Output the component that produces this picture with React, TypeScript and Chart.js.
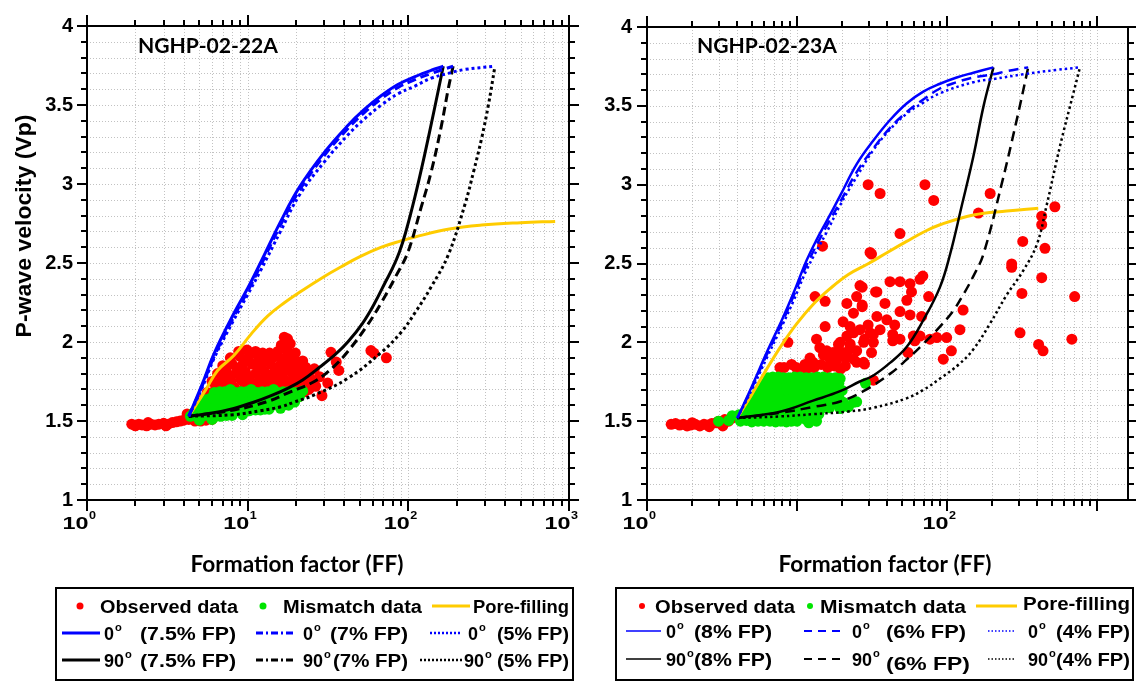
import React, { useEffect, useRef } from 'react';
import { Chart, registerables } from 'chart.js';

Chart.register(...registerables);

type Pt = [number, number];

// ---------------- axes ----------------
const yTickValues = [1, 1.5, 2, 2.5, 3, 3.5, 4];
const yMinorTenths = [10, 11, 12, 13, 14, 15, 16, 17, 18, 19, 20, 21, 22, 23, 24, 25, 26, 27, 28, 29, 30, 31, 32, 33, 34, 35, 36, 37, 38, 39, 40];
const decades = [1, 10, 100, 1000];
const minorMultipliers = [2, 3, 4, 5, 6, 7, 8, 9];
const xLabels22A = [1, 10, 100, 1000];
const xLabels23A = [1, 100];
const xMax22A = 1000;
const xMax23A = 1610;

// ---------------- NGHP-02-22A ----------------
const obs22A: Pt[] = [
  [1.9, 1.48], [2.0, 1.47], [2.1, 1.48], [2.2, 1.475], [2.35, 1.47], [2.5, 1.48], [2.65, 1.475], [2.8, 1.48], [3.0, 1.485], [3.2, 1.48],
  [3.4, 1.49], [3.6, 1.495], [3.8, 1.5], [4.0, 1.505], [4.3, 1.51], [4.7, 1.5], [5.1, 1.5], [5.5, 1.505], [6.0, 1.51], [2.4, 1.49],
  [3.1, 1.47], [4.5, 1.53], [4.2, 1.545],
  [5.3, 1.64], [5.6, 1.68], [6.3, 1.7], [7.2, 1.71], [8.3, 1.71], [9.6, 1.72], [11, 1.72], [12.5, 1.71], [14.3, 1.72], [16.3, 1.72], [18.5, 1.73], [21, 1.72], [23.5, 1.73],
  [6.0, 1.75], [6.9, 1.76], [7.9, 1.75], [9.1, 1.76], [10.4, 1.75], [11.9, 1.76], [13.6, 1.75], [15.5, 1.76], [17.6, 1.75], [20, 1.76], [22.5, 1.77], [25.5, 1.75],
  [6.5, 1.8], [7.4, 1.81], [8.5, 1.8], [9.7, 1.81], [11.2, 1.8], [12.8, 1.81], [14.6, 1.8], [16.7, 1.81], [19, 1.8], [21.5, 1.81], [24, 1.8],
  [7.0, 1.85], [8.0, 1.86], [9.2, 1.85], [10.6, 1.86], [12.1, 1.85], [13.9, 1.86], [15.9, 1.85], [18.1, 1.86], [20.5, 1.85], [23, 1.84],
  [7.8, 1.9], [8.9, 1.91], [10.1, 1.9], [11.6, 1.91], [13.2, 1.89], [15.1, 1.91], [17.2, 1.9], [19.5, 1.89], [22, 1.88],
  [8.8, 1.94], [9.9, 1.95], [11.2, 1.94], [12.4, 1.93], [13.7, 1.93], [15.4, 1.94], [17.8, 1.94], [19.8, 1.93],
  [6.7, 1.73], [7.7, 1.78], [8.6, 1.83], [10.0, 1.78], [11.7, 1.83], [13.0, 1.78], [14.8, 1.83], [16.5, 1.78], [18.2, 1.83], [20.8, 1.79],
  [9.5, 1.88], [12.0, 1.88], [14.2, 1.9], [16.3, 1.88], [18.6, 1.91], [21.0, 1.87], [24.5, 1.77], [25.0, 1.72],
  [16.9, 2.03], [17.7, 2.02], [18.4, 1.99], [16.2, 1.98], [33, 1.935], [35.6, 1.873], [36.9, 1.82], [31.5, 1.74], [58.5, 1.946],
  [61, 1.93], [73, 1.9], [22.5, 1.685], [24, 1.7], [20.4, 1.65], [26.5, 1.72], [28, 1.78], [26, 1.83], [29, 1.66],
];
const mis22A: Pt[] = [
  [4.4, 1.53], [4.7, 1.54], [5.0, 1.53], [5.4, 1.535], [5.8, 1.535], [6.3, 1.53], [6.8, 1.53], [7.4, 1.535], [8.0, 1.535], [9.3, 1.54],
  [4.8, 1.565], [5.1, 1.58], [5.5, 1.565], [6.0, 1.57], [6.4, 1.57], [7.0, 1.575], [7.5, 1.565], [8.2, 1.57], [8.8, 1.57], [9.6, 1.57],
  [10.3, 1.565], [11.2, 1.57], [12, 1.57], [12.8, 1.575], [13.6, 1.575],
  [5.2, 1.605], [5.6, 1.61], [6.0, 1.6], [6.5, 1.605], [7.0, 1.605], [7.6, 1.6], [8.2, 1.6], [8.9, 1.605], [9.6, 1.605], [10.4, 1.6],
  [11.2, 1.6], [12.1, 1.605], [13, 1.605], [14, 1.6], [15, 1.61], [16.1, 1.6], [17.2, 1.605],
  [5.5, 1.635], [5.9, 1.645], [6.5, 1.645], [7.0, 1.64], [7.6, 1.64], [8.2, 1.645], [8.9, 1.645], [9.6, 1.64], [10.4, 1.64],
  [11.2, 1.645], [12.1, 1.645], [13, 1.64], [14, 1.64], [15.1, 1.645], [16.2, 1.645], [17.4, 1.64], [18.6, 1.64],
  [6.2, 1.68], [6.7, 1.685], [7.2, 1.685], [7.8, 1.68], [8.4, 1.68], [9.1, 1.685], [9.8, 1.685], [10.6, 1.68], [11.4, 1.68],
  [12.3, 1.685], [13.3, 1.685], [14.3, 1.68], [15.4, 1.68], [16.6, 1.685], [17.8, 1.685], [19, 1.68], [20.2, 1.68],
  [19.6, 1.62], [21, 1.655], [22, 1.69], [5.0, 1.505], [6.0, 1.51], [4.6, 1.55], [10.5, 1.7], [14.5, 1.7], [7.8, 1.7], [16, 1.58], [18, 1.6],
];
const pore22A: Pt[] = [
  [4.3, 1.53], [5.5, 1.7], [6.5, 1.82], [8.2, 1.914], [10.5, 2.05], [13.3, 2.164], [17, 2.25], [21.4, 2.32], [30, 2.415],
  [38, 2.475], [50, 2.54], [68, 2.6], [90, 2.64], [110, 2.665], [180, 2.715], [286, 2.74], [500, 2.755], [820, 2.763],
];
const deg0FP75: Pt[] = [
  [4.3, 1.53], [5.2, 1.73], [6.2, 1.93], [8.2, 2.18], [10, 2.34], [12, 2.5], [16, 2.76], [21, 2.98], [30, 3.2], [42, 3.37],
  [53, 3.47], [68, 3.56], [86, 3.63], [110, 3.68], [139, 3.72], [165, 3.745],
];
const deg0FP7: Pt[] = [
  [4.3, 1.53], [5.2, 1.72], [6.2, 1.91], [8.2, 2.16], [10, 2.32], [12, 2.48], [16, 2.74], [21, 2.96], [30, 3.18], [42, 3.35],
  [53, 3.45], [68, 3.54], [86, 3.61], [110, 3.66], [139, 3.7], [190, 3.745],
];
const deg0FP5: Pt[] = [
  [4.3, 1.53], [5.2, 1.71], [6.2, 1.9], [8.2, 2.14], [10, 2.3], [12, 2.45], [16, 2.7], [21, 2.93], [30, 3.14], [42, 3.31],
  [53, 3.41], [68, 3.5], [86, 3.57], [110, 3.62], [139, 3.67], [177, 3.7], [225, 3.725], [346, 3.745],
];
const deg90FP75: Pt[] = [
  [4.3, 1.53], [6, 1.55], [8.2, 1.58], [11, 1.62], [14, 1.66], [18, 1.71], [22, 1.76], [28, 1.84], [35, 1.92], [42, 2.0],
  [52, 2.12], [62, 2.25], [72, 2.38], [80, 2.47], [88, 2.57], [96, 2.69], [110, 2.92], [126, 3.18], [145, 3.47], [165, 3.745],
];
const deg90FP7: Pt[] = [
  [4.3, 1.53], [8.2, 1.57], [13, 1.62], [18, 1.68], [26, 1.75], [34, 1.84], [42, 1.94], [55, 2.1], [68, 2.25], [84, 2.42],
  [99.5, 2.57], [120, 2.85], [139, 3.08], [160, 3.36], [177, 3.6], [190, 3.745],
];
const deg90FP5: Pt[] = [
  [4.3, 1.53], [8.2, 1.54], [12, 1.565], [16.1, 1.59], [19.5, 1.62], [26, 1.665], [42, 1.77], [68, 1.935], [90, 2.06],
  [110, 2.185], [139, 2.35], [177, 2.55], [225, 2.87], [255, 3.08], [286, 3.29], [315, 3.5], [346, 3.745],
];

// ---------------- NGHP-02-23A ----------------
const obs23A: Pt[] = [
  [1.45, 1.48], [1.55, 1.485], [1.65, 1.475], [1.75, 1.48], [1.85, 1.47], [1.95, 1.475], [2.1, 1.48], [2.25, 1.47], [2.4, 1.48],
  [2.55, 1.475], [2.7, 1.485], [2.9, 1.49], [3.0, 1.5], [3.1, 1.485], [3.3, 1.51], [3.5, 1.5], [3.7, 1.52], [2.0, 1.49], [2.6, 1.465],
  [3.2, 1.47], [4.2, 1.51],
  [29.8, 3.0], [35.8, 2.944], [71.3, 3.0], [81.6, 2.9], [194, 2.944], [162, 2.82], [48.6, 2.69], [30.7, 2.57], [320, 2.64], [428, 2.8],
  [428, 2.746], [524, 2.86], [450, 2.596], [270, 2.497], [14.8, 2.61], [31.4, 2.56], [27.2, 2.35], [33.4, 2.32], [13.2, 2.29],
  [15.4, 2.26], [25, 2.29], [21.5, 2.247], [27.2, 2.236], [23.8, 2.185], [20.3, 2.13], [22.6, 2.1], [15.4, 2.1], [34.1, 2.164],
  [26.3, 2.08], [30.7, 2.06], [28.2, 2.02], [32.3, 2.0], [13.5, 2.02], [14.2, 1.966], [21.5, 2.04], [18.9, 1.987], [22.6, 1.977],
  [15.8, 1.946], [17.4, 1.935], [20.3, 1.935], [16.6, 1.893], [18.3, 1.883], [25, 1.873], [28.2, 1.862], [8.7, 2.0], [12.8, 1.873],
  [9.9, 1.84], [11.6, 1.83], [11.3, 1.86], [7.7, 1.84], [32.3, 1.76],
  [41.7, 2.385], [48.6, 2.385], [56.7, 2.372], [66.1, 2.4], [69, 2.42], [26.3, 2.36], [34.1, 2.32], [58, 2.32], [75.5, 2.29],
  [27.2, 2.226], [38.6, 2.247], [54, 2.267], [48.6, 2.195], [56.7, 2.174], [67.8, 2.164], [39.7, 2.143], [44.8, 2.11], [29.8, 2.11],
  [35.8, 2.08], [23.8, 2.06], [32.3, 2.05], [43.5, 2.05], [59.6, 2.04], [66.1, 2.04], [77, 2.02], [85.6, 2.03], [99.5, 2.03],
  [43.5, 2.01], [48.6, 2.02], [61, 2.01], [19.4, 2.0], [22.6, 1.99], [27.8, 2.0], [21.5, 1.935], [25, 1.946], [31.4, 1.935],
  [23.8, 1.893], [27.8, 1.873], [55, 1.935], [94.5, 1.893], [107, 1.946], [122, 2.08], [128, 2.205], [270, 2.476], [428, 2.41],
  [316, 2.31], [710, 2.29], [307, 2.06], [408, 1.987], [437, 1.946], [680, 2.02],
  [8.2, 1.84], [9.2, 1.86], [10.2, 1.83], [11.4, 1.85], [13, 1.84], [14.5, 1.86], [16, 1.84], [17.8, 1.85], [19.5, 1.83], [21, 1.85],
  [12.2, 1.9], [15, 1.92], [18.8, 1.94], [21, 1.9],
];
const mis23A: Pt[] = [
  [3.0, 1.5], [3.5, 1.505], [4.2, 1.5], [4.6, 1.505], [5.0, 1.495], [5.5, 1.5], [6.0, 1.5], [6.6, 1.5], [7.2, 1.495], [7.8, 1.5],
  [8.5, 1.495], [9.2, 1.5], [10, 1.5], [11.5, 1.51],
  [3.7, 1.535], [4.1, 1.54], [4.5, 1.54], [4.9, 1.54], [5.3, 1.535], [5.8, 1.54], [6.3, 1.54], [6.9, 1.54], [7.5, 1.535], [8.2, 1.54],
  [9, 1.54], [9.9, 1.535], [10.8, 1.535], [11.6, 1.54], [12.5, 1.54], [14, 1.545],
  [4.6, 1.575], [5.0, 1.58], [5.4, 1.58], [5.9, 1.575], [6.4, 1.575], [7.0, 1.58], [7.6, 1.58], [8.3, 1.575], [9, 1.575], [9.7, 1.58],
  [10.5, 1.58], [11.5, 1.575], [12.5, 1.575], [13.5, 1.58], [14.5, 1.58], [16.5, 1.585],
  [4.9, 1.615], [5.3, 1.62], [5.8, 1.62], [6.3, 1.615], [6.8, 1.615], [7.4, 1.62], [8, 1.62], [8.7, 1.615], [9.5, 1.615], [10.2, 1.62],
  [11, 1.62], [12, 1.615], [13, 1.615], [14, 1.62], [15, 1.62], [16.2, 1.615], [17.5, 1.615], [18.7, 1.62], [20, 1.62],
  [5.2, 1.655], [5.7, 1.66], [6.2, 1.66], [6.7, 1.655], [7.2, 1.655], [7.8, 1.66], [8.5, 1.66], [9.2, 1.655], [10, 1.655],
  [11, 1.66], [12, 1.66], [13, 1.655], [14, 1.655], [15.2, 1.66], [16.5, 1.66], [17.8, 1.655], [19, 1.655],
  [5.6, 1.695], [6.0, 1.7], [6.5, 1.7], [7.1, 1.695], [7.7, 1.695], [8.3, 1.7], [9, 1.7], [9.7, 1.695], [10.5, 1.695], [11.5, 1.7],
  [12.5, 1.7], [13.7, 1.695], [15, 1.695], [16.2, 1.7], [17.5, 1.7], [18.7, 1.695], [20, 1.695],
  [6, 1.735], [6.5, 1.74], [7, 1.74], [7.6, 1.735], [8.2, 1.735], [8.9, 1.74], [9.6, 1.74], [10.5, 1.735], [11.5, 1.735],
  [12.5, 1.74], [13.5, 1.74], [14.7, 1.735], [16, 1.735], [17.5, 1.74], [19, 1.74],
  [6.4, 1.775], [6.9, 1.78], [7.5, 1.78], [8.1, 1.775], [8.8, 1.775], [9.6, 1.78], [10.5, 1.78], [11.5, 1.775], [12.5, 1.775],
  [13.7, 1.78], [15, 1.78], [16.5, 1.775], [18, 1.775],
  [19.4, 1.77], [28.6, 1.74], [20.3, 1.62], [23.8, 1.62], [19.4, 1.58], [22, 1.59], [25, 1.623], [13.5, 1.5], [12, 1.49],
];
const pore23A: Pt[] = [
  [4.0, 1.52], [5, 1.67], [6.28, 1.83], [8, 1.99], [10, 2.12], [12.8, 2.24], [16.6, 2.34], [22, 2.43], [30, 2.5], [40, 2.57],
  [53.8, 2.64], [70, 2.7], [89.8, 2.746], [150, 2.808], [250, 2.833], [406, 2.85],
];
const deg0FP8: Pt[] = [
  [4.0, 1.52], [5, 1.72], [6.28, 1.935], [8, 2.15], [9.45, 2.31], [11.6, 2.52], [13.5, 2.65], [15.8, 2.77], [19.4, 2.93], [25, 3.13],
  [32.3, 3.28], [41.7, 3.41], [53.8, 3.515], [69.5, 3.59], [89.8, 3.64], [116, 3.68], [150, 3.71], [204, 3.744],
];
const deg0FP6: Pt[] = [
  [4.0, 1.52], [5, 1.71], [6.28, 1.92], [8, 2.13], [9.45, 2.29], [11.6, 2.49], [15.8, 2.74], [19.4, 2.89], [25, 3.08], [32.3, 3.23],
  [41.7, 3.36], [53.8, 3.46], [69.5, 3.54], [89.8, 3.61], [116, 3.65], [150, 3.68], [204, 3.7], [250, 3.72], [348, 3.744],
];
const deg0FP4: Pt[] = [
  [4.0, 1.52], [5, 1.7], [6.28, 1.9], [8, 2.11], [9.45, 2.26], [11.6, 2.46], [15.8, 2.7], [19.4, 2.87], [25, 3.05], [32.3, 3.22],
  [41.7, 3.35], [53.8, 3.45], [69.5, 3.52], [89.8, 3.58], [150, 3.65], [204, 3.67], [322, 3.7], [538, 3.728], [770, 3.744],
];
const deg90FP8: Pt[] = [
  [4.0, 1.52], [7.7, 1.56], [12.8, 1.63], [19.4, 1.69], [26, 1.75], [32.3, 1.79], [41.7, 1.87], [53.8, 1.97], [69.5, 2.14],
  [89.8, 2.35], [105, 2.56], [125, 2.86], [150, 3.18], [175, 3.495], [204, 3.744],
];
const deg90FP6: Pt[] = [
  [4.0, 1.52], [8, 1.555], [12.8, 1.59], [19.4, 1.625], [27.7, 1.69], [41.7, 1.8], [53.8, 1.89], [69.5, 1.99],
  [89.8, 2.1], [110, 2.2], [128, 2.3], [150, 2.42], [175, 2.56], [231, 3.0], [290, 3.4], [348, 3.744],
];
const deg90FP4: Pt[] = [
  [4.0, 1.52], [7.7, 1.53], [13, 1.545], [21.4, 1.56], [32.3, 1.585], [53.8, 1.645], [70, 1.7], [89.8, 1.77], [120, 1.86],
  [150, 1.956], [194, 2.12], [250, 2.3], [320, 2.45], [397, 2.62], [462, 2.87], [567, 3.245], [695, 3.578], [770, 3.744],
];

// ---------------- styling ----------------
const RED = '#ff0000';
const GREEN = '#00e400';
const YELLOW = '#ffcc00';
const BLUE = '#0000ff';
const BLACK = '#000000';
const ARIAL = '"Liberation Sans", Arial, sans-serif';
const CALIBRI = 'Lato, "Open Sans", sans-serif';

function curve(label: string, pts: Pt[], color: string, width: number, dash: number[]) {
  return {
    label,
    data: pts.map(([x, y]) => ({ x, y })),
    showLine: true,
    pointRadius: 0,
    pointHoverRadius: 0,
    borderColor: color,
    backgroundColor: color,
    borderWidth: width,
    borderDash: dash,
    borderCapStyle: 'butt',
    tension: 0.4,
    fill: false,
  };
}
function dots(label: string, pts: Pt[], color: string, r: number) {
  return {
    label,
    data: pts.map(([x, y]) => ({ x, y })),
    showLine: false,
    pointRadius: r,
    pointHoverRadius: r,
    pointBorderWidth: 0,
    pointBackgroundColor: color,
    backgroundColor: color,
    borderColor: color,
  };
}

// ---------------- text helpers ----------------
function T(ctx: CanvasRenderingContext2D, s: string, x: number, y: number, size: number,
  o: { bold?: boolean; w?: number; align?: 'left' | 'center' | 'right'; family?: string; color?: string } = {}) {
  ctx.save();
  ctx.font = `${o.bold === false ? 'normal' : 'bold'} ${size}px ${o.family || ARIAL}`;
  ctx.textAlign = 'left';
  ctx.textBaseline = 'alphabetic';
  ctx.fillStyle = o.color || '#000';
  const m = ctx.measureText(s).width;
  const sx = o.w ? o.w / m : 1;
  const w = m * sx;
  const align = o.align || 'left';
  const left = align === 'left' ? x : align === 'center' ? x - w / 2 : x - w;
  ctx.translate(left, y);
  ctx.scale(sx, 1);
  ctx.fillText(s, 0, 0);
  ctx.restore();
  return left + w;
}
function degT(ctx: CanvasRenderingContext2D, num: string, x: number, y: number, size: number, bold = true) {
  const end = T(ctx, num, x, y, size, { bold });
  return T(ctx, 'o', end + 1, y - size * 0.48, size * 0.62, { bold });
}
function seg(ctx: CanvasRenderingContext2D, x1: number, x2: number, y: number, color: string, lw: number, dash: number[]) {
  ctx.save();
  ctx.strokeStyle = color;
  ctx.lineWidth = lw;
  ctx.setLineDash(dash);
  ctx.beginPath();
  ctx.moveTo(x1, y);
  ctx.lineTo(x2, y);
  ctx.stroke();
  ctx.restore();
}
function dot(ctx: CanvasRenderingContext2D, x: number, y: number, r: number, color: string) {
  ctx.save();
  ctx.fillStyle = color;
  ctx.beginPath();
  ctx.arc(x, y, r, 0, Math.PI * 2);
  ctx.fill();
  ctx.restore();
}
function box(ctx: CanvasRenderingContext2D, x: number, y: number, w: number, h: number) {
  ctx.save();
  ctx.strokeStyle = '#000';
  ctx.lineWidth = 2;
  ctx.setLineDash([]);
  ctx.strokeRect(x, y, w, h);
  ctx.restore();
}

function legend22A(ctx: CanvasRenderingContext2D) {
  box(ctx, 56, 588, 517, 92);
  const r1 = 606, r2 = 633, r3 = 660, fs = 18, b = 6.5;
  dot(ctx, 80, r1, 3.5, RED); T(ctx, 'Observed data', 100, r1 + b, fs, { w: 138 });
  dot(ctx, 263, r1, 3.5, GREEN); T(ctx, 'Mismatch data', 283, r1 + b, fs, { w: 139 });
  seg(ctx, 432, 470, r1, YELLOW, 3, []); T(ctx, 'Pore-filling', 473, r1 + 7, 19, { w: 96 });
  seg(ctx, 62, 100, r2, BLUE, 3, []); degT(ctx, '0', 104, r2 + b, fs); T(ctx, '(7.5% FP)', 140, r2 + b, fs, { w: 96 });
  seg(ctx, 256, 295, r2, BLUE, 3, [7, 3, 2, 3]); degT(ctx, '0', 303, r2 + b, fs); T(ctx, '(7% FP)', 330, r2 + b, fs, { w: 78 });
  seg(ctx, 430, 462, r2, BLUE, 2.5, [2, 2]); degT(ctx, '0', 468, r2 + b, fs); T(ctx, '(5% FP)', 497, r2 + b, fs, { w: 72 });
  seg(ctx, 62, 100, r3, BLACK, 3, []); degT(ctx, '90', 104, r3 + b, fs); T(ctx, '(7.5% FP)', 140, r3 + b, fs, { w: 96 });
  seg(ctx, 256, 295, r3, BLACK, 3, [7, 3, 2, 3]); degT(ctx, '90', 303, r3 + b, fs); T(ctx, '(7% FP)', 333, r3 + b, fs, { w: 75 });
  seg(ctx, 420, 462, r3, BLACK, 2.5, [2, 2]); degT(ctx, '90', 464, r3 + b, fs); T(ctx, '(5% FP)', 497, r3 + b, fs, { w: 72 });
}
function legend23A(ctx: CanvasRenderingContext2D) {
  box(ctx, 616, 588, 517, 92);
  const r1 = 606, r2 = 631, r3 = 659, fs = 18, b = 6.5;
  dot(ctx, 642, r1, 3, RED); T(ctx, 'Observed data', 655, r1 + b, fs, { w: 140 });
  dot(ctx, 810, r1, 3, GREEN); T(ctx, 'Mismatch data', 820, r1 + b, fs, { w: 146 });
  seg(ctx, 976, 1017, r1, YELLOW, 3, []); T(ctx, 'Pore-filling', 1023, r1 + 4, 19, { w: 107 });
  seg(ctx, 626, 661, r2, BLUE, 1.5, []); degT(ctx, '0', 666, r2 + b, fs); T(ctx, '(8% FP)', 694, r2 + b, fs, { w: 78 });
  seg(ctx, 804, 845, r2, BLUE, 2, [8, 6]); degT(ctx, '0', 852, r2 + b, fs); T(ctx, '(6% FP)', 886, r2 + b, fs, { w: 80 });
  seg(ctx, 988, 1016, r2, BLUE, 1.5, [1.5, 2]); degT(ctx, '0', 1028, r2 + b, fs); T(ctx, '(4% FP)', 1056, r2 + b, fs, { w: 74 });
  seg(ctx, 626, 661, r3, BLACK, 1.5, []); degT(ctx, '90', 666, r3 + b, fs); T(ctx, '(8% FP)', 694, r3 + b, fs, { w: 78 });
  seg(ctx, 804, 845, r3, BLACK, 2, [8, 6]); degT(ctx, '90', 852, r3 + b, fs); T(ctx, '(6% FP)', 886, r3 + b + 4, fs, { w: 84 });
  seg(ctx, 988, 1016, r3, BLACK, 1.5, [1.5, 2]); degT(ctx, '90', 1028, r3 + b, fs); T(ctx, '(4% FP)', 1056, r3 + b, fs, { w: 74 });
}

// ---------------- panel config ----------------
interface PanelCfg {
  key: string;
  left: number;
  width: number;
  areaLeft: number;
  areaRight: number;
  xMax: number;
  xLabels: number[];
  yLabelPad: number;
  title: string;
  titleX: number;
  xTitleCenter: number;
  yTitle: boolean;
  legend: (ctx: CanvasRenderingContext2D) => void;
  datasets: () => any[];
}

const panels: PanelCfg[] = [
  {
    key: '22A', left: 0, width: 590, areaLeft: 87, areaRight: 569, xMax: xMax22A, xLabels: xLabels22A, yLabelPad: 14,
    title: 'NGHP-02-22A', titleX: 138, xTitleCenter: 297, yTitle: true, legend: legend22A,
    datasets: () => [
      curve('0° (7.5% FP)', deg0FP75, BLUE, 3, []),
      curve('0° (7% FP)', deg0FP7, BLUE, 3, [9, 5]),
      curve('0° (5% FP)', deg0FP5, BLUE, 3, [3, 3]),
      curve('90° (7.5% FP)', deg90FP75, BLACK, 3, []),
      curve('90° (7% FP)', deg90FP7, BLACK, 3, [9, 5]),
      curve('90° (5% FP)', deg90FP5, BLACK, 3, [3, 3]),
      curve('Pore-filling', pore22A, YELLOW, 3, []),
      dots('Mismatch data', mis22A, GREEN, 5.5),
      dots('Observed data', obs22A, RED, 5.5),
    ],
  },
  {
    key: '23A', left: 590, width: 546, areaLeft: 647, areaRight: 1128, xMax: xMax23A, xLabels: xLabels23A, yLabelPad: 15,
    title: 'NGHP-02-23A', titleX: 697, xTitleCenter: 885, yTitle: false, legend: legend23A,
    datasets: () => [
      curve('0° (8% FP)', deg0FP8, BLUE, 2.5, []),
      curve('0° (6% FP)', deg0FP6, BLUE, 2.5, [10, 6]),
      curve('0° (4% FP)', deg0FP4, BLUE, 2.5, [2.5, 3]),
      curve('90° (8% FP)', deg90FP8, BLACK, 2.5, []),
      curve('90° (6% FP)', deg90FP6, BLACK, 2.5, [10, 6]),
      curve('90° (4% FP)', deg90FP4, BLACK, 2.5, [2.5, 3]),
      curve('Pore-filling', pore23A, YELLOW, 3, []),
      dots('Mismatch data', mis23A, GREEN, 5.5),
      dots('Observed data', obs23A, RED, 5.5),
    ],
  },
];

function xPositions(max: number) {
  const out: { v: number; major: boolean }[] = [];
  for (const d of decades) {
    if (d <= max) out.push({ v: d, major: true });
    for (const m of minorMultipliers) if (d * m <= max) out.push({ v: d * m, major: false });
  }
  return out;
}
function yPositions() {
  return yMinorTenths.map((k) => ({ v: k / 10, major: k % 5 === 0 }));
}

function decor(cfg: PanelCfg) {
  return {
    id: 'decor' + cfg.key,
    beforeDatasetsDraw(chart: any) {
      const { ctx, chartArea: a, scales } = chart;
      const x = scales.x, y = scales.y;
      ctx.save();
      ctx.strokeStyle = '#c2c2c2';
      ctx.lineWidth = 1;
      ctx.setLineDash([1, 2]);
      ctx.beginPath();
      for (const p of xPositions(cfg.xMax)) {
        const px = Math.round(x.getPixelForValue(p.v)) + 0.5;
        if (px <= a.left + 2 || px >= a.right - 2) continue;
        ctx.moveTo(px, a.top);
        ctx.lineTo(px, a.bottom);
      }
      for (const p of yPositions()) {
        const py = Math.round(y.getPixelForValue(p.v)) + 0.5;
        if (py <= a.top + 2 || py >= a.bottom - 2) continue;
        ctx.moveTo(a.left, py);
        ctx.lineTo(a.right, py);
      }
      ctx.stroke();
      ctx.restore();
    },
    afterDatasetsDraw(chart: any) {
      const { ctx, chartArea: a, scales } = chart;
      const x = scales.x, y = scales.y;
      ctx.save();
      ctx.strokeStyle = '#000';
      ctx.lineWidth = 2;
      ctx.setLineDash([]);
      ctx.strokeRect(a.left, a.top, a.right - a.left, a.bottom - a.top);
      ctx.beginPath();
      for (const p of xPositions(cfg.xMax)) {
        const px = Math.round(x.getPixelForValue(p.v));
        const len = p.major ? 11 : 6;
        ctx.moveTo(px, a.bottom);
        ctx.lineTo(px, a.bottom + len);
        ctx.moveTo(px, a.top);
        ctx.lineTo(px, a.top - len);
      }
      for (const p of yPositions()) {
        const py = Math.round(y.getPixelForValue(p.v));
        const len = p.major ? 10 : 6;
        ctx.moveTo(a.left, py);
        ctx.lineTo(a.left - len, py);
        ctx.moveTo(a.right, py);
        ctx.lineTo(a.right + len, py);
      }
      ctx.stroke();
      ctx.restore();

      // x tick labels (10^k)
      for (const v of cfg.xLabels) {
        const px = x.getPixelForValue(v);
        const exp = String(Math.round(Math.log10(v)));
        T(ctx, '10', px + 1.5, 529, 16, { align: 'right', w: 26 });
        T(ctx, exp, px + 2, 519, 11, { w: 7 });
      }

      // absolute-coordinate decorations
      ctx.save();
      ctx.translate(-cfg.left, 0);
      T(ctx, cfg.title, cfg.titleX, 53, 21, { family: CALIBRI, w: 140 });
      T(ctx, 'Formation factor (FF)', cfg.xTitleCenter, 572, 22, { family: CALIBRI, align: 'center', w: 213 });
      if (cfg.yTitle) {
        ctx.save();
        ctx.translate(31, 226);
        ctx.rotate(-Math.PI / 2);
        T(ctx, 'P-wave velocity (Vp)', 0, 0, 22, { align: 'center', w: 223 });
        ctx.restore();
      }
      cfg.legend(ctx);
      ctx.restore();
    },
  };
}

function Panel({ cfg }: { cfg: PanelCfg }) {
  const ref = useRef<HTMLCanvasElement>(null);
  useEffect(() => {
    const canvas = ref.current;
    if (!canvas) return;
    const chart = new Chart(canvas, {
      type: 'scatter',
      data: { datasets: cfg.datasets() as any },
      options: {
        responsive: false,
        animation: false,
        events: [],
        layout: {
          autoPadding: false,
          padding: { left: 0, top: 19, right: cfg.left + cfg.width - cfg.areaRight, bottom: 182 },
        },
        plugins: { legend: { display: false }, tooltip: { enabled: false } },
        scales: {
          x: { type: 'logarithmic', min: 1, max: cfg.xMax, display: false },
          y: {
            type: 'linear',
            min: 1,
            max: 4,
            afterBuildTicks: (s: any) => {
              s.ticks = yTickValues.map((v) => ({ value: v }));
            },
            afterFit: (s: any) => {
              s.width = cfg.areaLeft - cfg.left;
            },
            ticks: {
              color: '#000',
              padding: cfg.yLabelPad,
              font: { family: ARIAL, size: 20, weight: 'bold' },
              callback: (v: any) => String(v),
            },
            grid: { display: false, drawTicks: false },
            border: { display: false },
          },
        },
      } as any,
      plugins: [decor(cfg)],
    });
    return () => chart.destroy();
  }, [cfg]);
  return (
    <canvas
      ref={ref}
      width={cfg.width}
      height={682}
      style={{ position: 'absolute', left: cfg.left, top: 0, width: cfg.width, height: 682 }}
    />
  );
}

export default function App() {
  return (
    <div style={{ position: 'fixed', left: 0, top: 0, width: 1136, height: 682, background: '#fff', overflow: 'hidden' }}>
      {panels.map((p) => (
        <Panel key={p.key} cfg={p} />
      ))}
    </div>
  );
}
